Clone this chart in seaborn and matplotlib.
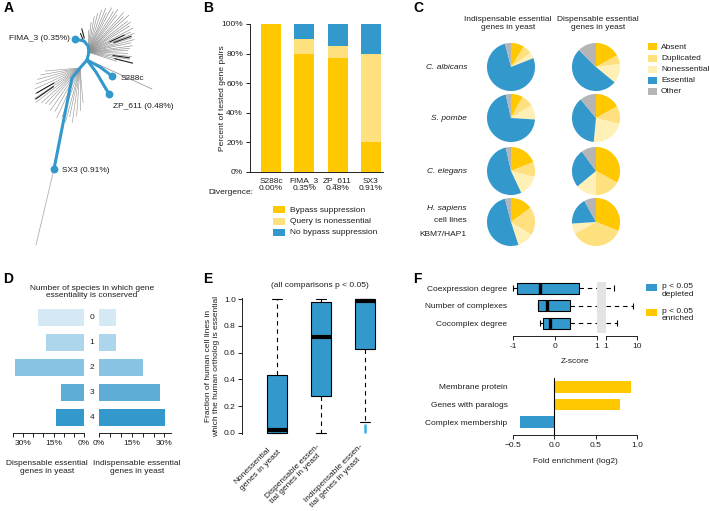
import numpy as np
import pandas as pd
import matplotlib
matplotlib.use("Agg")
import matplotlib.pyplot as plt
import seaborn as sns
from matplotlib.patches import Rectangle
from matplotlib import font_manager

# ---------------- data ----------------
# Panel A: tree paths (node coordinates in panel space) and labels
tree_labels = ["FIMA_3 (0.35%)", "S288c", "ZP_611 (0.48%)", "SX3 (0.91%)"]
path_fima_x = [87, 89, 88, 84, 75]
path_fima_y = [60, 52, 46, 41, 39]
path_s288c_x = [87, 100, 112]
path_s288c_y = [60, 67, 76]
path_zp_x = [87, 96, 109]
path_zp_y = [60, 72, 94]
path_sx3_x = [87, 80, 72, 54]
path_sx3_y = [60, 68, 78, 169]
tail_x = [54, 36]
tail_y = [169, 245]
fan_up_ang = [88, 84, 80, 76, 72, 68, 65, 62, 58, 55, 52, 48, 45, 42, 38, 35, 32, 28,
              25, 22, 18, 15, 12, 8, 5, 2, -2, -6, -10, -14, -18]
fan_up_len = [22, 30, 36, 40, 44, 47, 43, 50, 48, 52, 47, 53, 50, 55, 50, 52, 49, 51,
              47, 50, 46, 48, 44, 45, 42, 40, 40, 44, 42, 36, 30]
fan_lo_ang = [185, 190, 195, 200, 205, 210, 214, 218, 222, 226, 230, 235, 240, 245,
              250, 255, 258, 262, 266, 270, 275]
fan_lo_len = [35, 40, 44, 47, 50, 52, 55, 56, 52, 50, 48, 52, 50, 55, 52, 56, 50, 55,
              48, 42, 35]
dark_ang = [112, 105, 25, 20, -8, -14, 210, 215]
dark_len = [20, 24, 40, 46, 42, 46, 50, 54]
long_branch_x = [95, 152]
long_branch_y = [63, 89]

# Panel B
b_strains = ["S288c", "FIMA_3", "ZP_611", "SX3"]
b_div = ["0.00%", "0.35%", "0.48%", "0.91%"]
b_bypass = [100, 80, 77, 20]
b_query = [0, 10, 8, 60]
b_nobypass = [0, 10, 15, 20]
b_legend = ["Bypass suppression", "Query is nonessential", "No bypass suppression"]

# Panel C (Absent, Duplicated, Nonessential, Essential, Other)
c_species = ["C. albicans", "S. pombe", "C. elegans", "H. sapiens"]
c_cats = ["Absent", "Duplicated", "Nonessential", "Essential", "Other"]
c_indisp_calb = [9, 6, 4, 77, 4]
c_indisp_spom = [8, 8, 10, 70.5, 3.5]
c_indisp_cele = [19, 10, 14, 53.5, 3.5]
c_indisp_hsap = [15, 19, 11, 51, 4]
c_disp_calb = [17, 6, 13, 51.5, 12.5]
c_disp_spom = [17, 12, 22.5, 37.5, 11]
c_disp_cele = [33, 17, 14, 26, 10]
c_disp_hsap = [31, 36, 7, 18, 8]

# Panel D
d_levels = ["0", "1", "2", "3", "4"]
d_disp = [22.5, 18.5, 34, 11.2, 13.7]
d_indisp = [7.7, 8, 20, 28, 30.2]

# Panel E
e_groups = ["Nonessential\ngenes in yeast", "Dispensable essen-\ntial genes in yeast",
            "Indispensable essen-\ntial genes in yeast"]
e_whislo = [0.0, 0.0, 0.082]
e_q1 = [0.0, 0.276, 0.629]
e_med = [0.02, 0.72, 0.985]
e_q3 = [0.435, 0.98, 1.0]
e_whishi = [1.0, 1.0, 1.0]
e_out_lo = [0.0, 0.0, 0.0]
e_out_hi = [0.0, 0.0, 0.07]

# Panel F
f_feats = ["Coexpression degree", "Number of complexes", "Cocomplex degree"]
f_whislo = [-1.0, -0.40, -0.36]
f_q1 = [-0.9, -0.40, -0.28]
f_med = [-0.36, -0.20, -0.13]
f_q3 = [0.57, 0.36, 0.36]
f_whishi = [1.8, 7.4, 2.2]
g_feats = ["Membrane protein", "Genes with paralogs", "Complex membership"]
g_vals = [0.93, 0.79, -0.42]

# ---------------- style ----------------
sns.set_theme(style="ticks")
avail = {f.name for f in font_manager.fontManager.ttflist}
NARROW = "Liberation Sans Narrow" if "Liberation Sans Narrow" in avail else "Liberation Sans"
FS = 7 if NARROW == "Liberation Sans Narrow" else 6
plt.rcParams["font.family"] = [NARROW, "DejaVu Sans"]
plt.rcParams["font.size"] = FS
plt.rcParams["axes.linewidth"] = 0.7
plt.rcParams["xtick.major.width"] = 0.7
plt.rcParams["ytick.major.width"] = 0.7
plt.rcParams["xtick.labelsize"] = FS
plt.rcParams["ytick.labelsize"] = FS
TXT = "#1e1e1e"
plt.rcParams["text.color"] = TXT
plt.rcParams["xtick.color"] = TXT
plt.rcParams["ytick.color"] = TXT
plt.rcParams["axes.edgecolor"] = "#222222"

YEL = "#FFC800"
LYEL = "#FFE07E"
PYEL = "#FFF0B8"
BLUE = "#3399CC"
GREY = "#B5B5B5"
PIE_COLS = [YEL, LYEL, PYEL, BLUE, GREY]
D_COLS = ["#D5E9F5", "#ADD6EC", "#88C3E3", "#5EADD9", "#3399CC"]

W, H = 709, 511
fig = plt.figure(figsize=(W / 100, H / 100), dpi=100)


def pax(x0, y0, x1, y1):
    return fig.add_axes([x0 / W, 1 - y1 / H, (x1 - x0) / W, (y1 - y0) / H])


def ftext(x, y, s, **kw):
    kw.setdefault("fontsize", FS)
    return fig.text(x / W, 1 - y / H, s, **kw)


def frect(x0, yc, w, h, color):
    fig.add_artist(Rectangle((x0 / W, 1 - (yc + h / 2) / H), w / W, h / H,
                             transform=fig.transFigure, color=color, lw=0))


def only_spines(ax, keep):
    for s in ["left", "right", "top", "bottom"]:
        ax.spines[s].set_visible(s in keep)


# panel letters
for lab, (x, y) in zip("ABCDEF", [(4, 8), (203, 8), (413, 8), (3, 279), (203, 279), (413, 279)]):
    ftext(x, y, lab, fontsize=10, fontweight="bold", family="Liberation Sans",
          ha="left", va="center", color="black")

# ---------------- Panel A ----------------
axA = pax(0, 0, 200, 250)
axA.set_xlim(0, 200)
axA.set_ylim(250, 0)
axA.axis("off")
ox, oy = 88, 52
for a, l in zip(fan_up_ang, fan_up_len):
    r = np.deg2rad(a)
    axA.plot([ox, ox + l * np.cos(r)], [oy, oy - l * np.sin(r)], color="#8c8c8c", lw=0.45)
lx, ly = 80, 68
for a, l in zip(fan_lo_ang, fan_lo_len):
    r = np.deg2rad(a)
    axA.plot([lx, lx + l * np.cos(r)], [ly, ly - l * np.sin(r)], color="#9a9a9a", lw=0.45)
for i, (a, l) in enumerate(zip(dark_ang, dark_len)):
    r = np.deg2rad(a)
    bx, by = (ox, oy) if i < 6 else (lx, ly)
    axA.plot([bx + 0.6 * l * np.cos(r), bx + l * np.cos(r)],
             [by - 0.6 * l * np.sin(r), by - l * np.sin(r)], color="#202020", lw=0.8)
axA.plot(long_branch_x, long_branch_y, color="#8c8c8c", lw=0.5)
axA.plot(tail_x, tail_y, color="#b0b0b0", lw=0.6)
for px_, py_ in [(path_fima_x, path_fima_y), (path_s288c_x, path_s288c_y),
                 (path_zp_x, path_zp_y), (path_sx3_x, path_sx3_y)]:
    axA.plot(px_, py_, color=BLUE, lw=2.2, solid_capstyle="round", solid_joinstyle="round", zorder=4)
dot_x = [path_fima_x[-1], path_s288c_x[-1], path_zp_x[-1], path_sx3_x[-1]]
dot_y = [path_fima_y[-1], path_s288c_y[-1], path_zp_y[-1], path_sx3_y[-1]]
axA.scatter(dot_x, dot_y, s=32, color=BLUE, zorder=5, linewidths=0)
lab_off = [(-5, 0, "right"), (9, 2, "left"), (4, 13, "left"), (8, 1, "left")]
for t, dx, dy, (ox_, oy_, ha) in zip(tree_labels, dot_x, dot_y, lab_off):
    axA.text(dx + ox_, dy + oy_, t, ha=ha, va="center", fontsize=FS)

# ---------------- Panel B ----------------
axB = pax(250, 24, 383, 172)
tot = [a + b + c for a, b, c in zip(b_bypass, b_query, b_nobypass)]
bq = [a + b for a, b in zip(b_bypass, b_query)]
for vals, col in [(tot, BLUE), (bq, LYEL), (b_bypass, YEL)]:
    sns.barplot(x=b_strains, y=vals, color=col, width=0.6, saturation=1,
                errorbar=None, linewidth=0, ax=axB)
axB.set_xlim(-0.63, 3.36)
axB.set_ylim(0, 100)
axB.set_yticks([0, 20, 40, 60, 80, 100], [f"{v}%" for v in [0, 20, 40, 60, 80, 100]])
axB.set_xticks(range(4), [f"{s}\n{d}" for s, d in zip(b_strains, b_div)])
axB.tick_params(axis="x", length=0, pad=4)
axB.tick_params(axis="y", length=3, pad=2)
for t in axB.get_xticklabels():
    t.set_linespacing(1.05)
only_spines(axB, ["left", "bottom"])
axB.set_xlabel("")
axB.set_ylabel("")
ftext(222, 98, "Percent of tested gene pairs", rotation=90, ha="center", va="center")
ftext(253, 193, "Divergence:", ha="right", va="center")
for i, (lab, col) in enumerate(zip(b_legend, [YEL, LYEL, BLUE])):
    yc = 210 + 11.5 * i
    frect(273, yc, 12, 7, col)
    ftext(290, yc, lab, ha="left", va="center")

# ---------------- Panel C ----------------
pie_rows = [(c_indisp_calb, c_disp_calb), (c_indisp_spom, c_disp_spom),
            (c_indisp_cele, c_disp_cele), (c_indisp_hsap, c_disp_hsap)]
row_y = [67, 118, 171, 222]
col_x = [511, 596]
for (vi, vd), cy in zip(pie_rows, row_y):
    for vals, cx in zip([vi, vd], col_x):
        axp = pax(cx - 25, cy - 25, cx + 25, cy + 25)
        axp.pie(vals, colors=PIE_COLS, startangle=90, counterclock=False,
                wedgeprops=dict(linewidth=0))
        axp.set_xlim(-1.04, 1.04)
        axp.set_ylim(-1.04, 1.04)
        axp.axis("off")
ftext(508, 23, "Indispensable essential\ngenes in yeast", ha="center", va="center", linespacing=1.2)
ftext(598, 23, "Dispensable essential\ngenes in yeast", ha="center", va="center", linespacing=1.2)
for sp, cy in zip(c_species[:3], row_y[:3]):
    ftext(467, cy, sp, ha="right", va="center", style="italic")
ftext(467, 208, c_species[3], ha="right", va="center", style="italic")
ftext(467, 221, "cell lines", ha="right", va="center")
ftext(467, 234, "KBM7/HAP1", ha="right", va="center")
for i, (lab, col) in enumerate(zip(c_cats, PIE_COLS)):
    yc = 47 + 11.2 * i
    frect(648, yc, 9, 7, col)
    ftext(661, yc, lab, ha="left", va="center")

# ---------------- Panel D ----------------
axDL = pax(13, 300, 84, 433)
axDR = pax(99, 300, 171, 433)
sns.barplot(x=d_disp, y=d_levels, hue=d_levels, palette=D_COLS, legend=False,
            orient="h", width=0.68, saturation=1, errorbar=None, linewidth=0, ax=axDL)
sns.barplot(x=d_indisp, y=d_levels, hue=d_levels, palette=D_COLS, legend=False,
            orient="h", width=0.68, saturation=1, errorbar=None, linewidth=0, ax=axDR)
axDL.set_xlim(35, 0)
axDR.set_xlim(0, 33)
for ax, ticks in [(axDL, range(0, 36, 5)), (axDR, range(0, 31, 5))]:
    ax.set_ylim(4.64, -0.68)
    ax.set_xticks(list(ticks), [f"{t}%" if t % 15 == 0 else "" for t in ticks])
    ax.set_yticks([])
    ax.tick_params(axis="x", length=3, pad=2)
    ax.set_xlabel("")
    ax.set_ylabel("")
    only_spines(ax, ["bottom"])
for i, lev in enumerate(d_levels):
    ftext(92, 317 + 25 * i, lev, ha="center", va="center")
ftext(92, 292, "Number of species in which gene\nessentiality is conserved",
      ha="center", va="center", linespacing=1.15)
ftext(47, 467, "Dispensable essential\ngenes in yeast", ha="center", va="center", linespacing=1.2)
ftext(137, 467, "Indispensable essential\ngenes in yeast", ha="center", va="center", linespacing=1.2)

# ---------------- Panel E ----------------
axE = pax(242, 298, 390, 434)
e_stats = [dict(whislo=a, q1=b, med=c, q3=d, whishi=e, fliers=[])
           for a, b, c, d, e in zip(e_whislo, e_q1, e_med, e_q3, e_whishi)]
axE.bxp(e_stats, positions=[1, 2, 3], widths=0.45, capwidths=0.22, patch_artist=True,
        showfliers=False,
        boxprops=dict(facecolor=BLUE, edgecolor="black", linewidth=0.8),
        medianprops=dict(color="black", linewidth=3, solid_capstyle="butt"),
        whiskerprops=dict(color="black", linewidth=0.8, linestyle=(0, (4, 3.5))),
        capprops=dict(color="black", linewidth=0.8))
for ch in axE.get_children():
    try:
        ch.set_clip_on(False)
    except Exception:
        pass
axE.vlines([1, 2, 3], e_out_lo, e_out_hi, color="#3BB0EA", linewidth=1.8)
axE.set_xlim(0.205, 3.57)
axE.set_ylim(-0.0075, 1.0075)
axE.set_yticks([0, 0.2, 0.4, 0.6, 0.8, 1.0], ["0.0", "0.2", "0.4", "0.6", "0.8", "1.0"])
axE.set_xticks([1, 2, 3], e_groups, rotation=45, ha="right", va="center",
               rotation_mode="anchor", ma="left")
axE.tick_params(axis="x", length=0, pad=10)
axE.tick_params(axis="y", length=3, pad=1.5)
only_spines(axE, ["left"])
ftext(213, 366, "Fraction of human cell lines in\nwhich the human ortholog is essential",
      rotation=90, ha="center", va="center", linespacing=1.2)
ftext(320, 285, "(all comparisons p < 0.05)", ha="center", va="center")

# ---------------- Panel F (top) ----------------
axF1 = pax(513, 280, 597, 336)
axF2 = pax(606, 280, 637, 336)
fig.add_artist(Rectangle((597 / W, 1 - 333 / H), 9 / W, 51 / H, transform=fig.transFigure,
                         color="#E4E4E4", lw=0, zorder=0))
pos = [0, 1, 2]
f_stats = [dict(whislo=a, q1=b, med=c, q3=d, whishi=e, fliers=[])
           for a, b, c, d, e in zip(f_whislo, f_q1, f_med, f_q3, f_whishi)]
dash = (0, (4, 3.5))
axF1.bxp(f_stats, positions=pos, widths=0.63, orientation="horizontal", patch_artist=True,
         showfliers=False, showcaps=False,
         boxprops=dict(facecolor=BLUE, edgecolor="black", linewidth=0.8),
         medianprops=dict(color="black", linewidth=2.4, solid_capstyle="butt"),
         whiskerprops=dict(color="black", linewidth=0.8, linestyle=dash))
axF1.plot(f_whislo, pos, ls="none", marker="|", ms=5, mew=0.8, color="black", clip_on=False)
for p, hi in zip(pos, f_whishi):
    axF2.plot([1, hi], [p, p], color="black", lw=0.8, ls=dash)
axF2.plot(f_whishi, pos, ls="none", marker="|", ms=5, mew=0.8, color="black", clip_on=False)
axF1.set_xlim(-1, 1)
axF2.set_xscale("log")
axF2.set_xlim(1, 10)
for ax in (axF1, axF2):
    ax.set_ylim(2.74, -0.46)
    ax.patch.set_alpha(0)
    only_spines(ax, ["bottom"])
    ax.tick_params(axis="x", length=3, pad=2)
axF1.set_xticks([-1, 0, 1], ["-1", "0", "1"])
axF2.set_xticks([1, 10], ["1", "10"])
axF2.xaxis.set_minor_locator(matplotlib.ticker.NullLocator())
axF2.set_yticks([])
axF1.set_yticks(pos, f_feats)
axF1.tick_params(axis="y", length=0, pad=4)
ftext(575, 361, "Z-score", ha="center", va="center")
for i, (l1, col) in enumerate(zip(["p < 0.05\ndepleted", "p < 0.05\nenriched"], [BLUE, YEL])):
    yc = 287 + 25 * i
    frect(646, yc, 11, 7, col)
    ftext(662, yc - 4, l1, ha="left", va="top", linespacing=1.1)

# ---------------- Panel F (bottom) ----------------
axG = pax(513, 378, 637, 435)
sns.barplot(x=g_vals, y=g_feats, hue=g_feats,
            palette=[YEL if v > 0 else BLUE for v in g_vals], legend=False,
            orient="h", width=0.65, saturation=1, errorbar=None, linewidth=0, ax=axG)
axG.axvline(0, color="black", lw=0.8)
axG.set_xlim(-0.5, 1.0)
axG.set_ylim(2.74, -0.51)
axG.set_xticks([-0.5, 0, 0.5, 1.0], ["\u22120.5", "0.0", "0.5", "1.0"])
axG.tick_params(axis="x", length=3, pad=2)
axG.tick_params(axis="y", length=0, pad=4)
axG.set_xlabel("")
axG.set_ylabel("")
only_spines(axG, ["bottom"])
ftext(575, 461, "Fold enrichment (log2)", ha="center", va="center")

fig.savefig("out.png", dpi=100)
